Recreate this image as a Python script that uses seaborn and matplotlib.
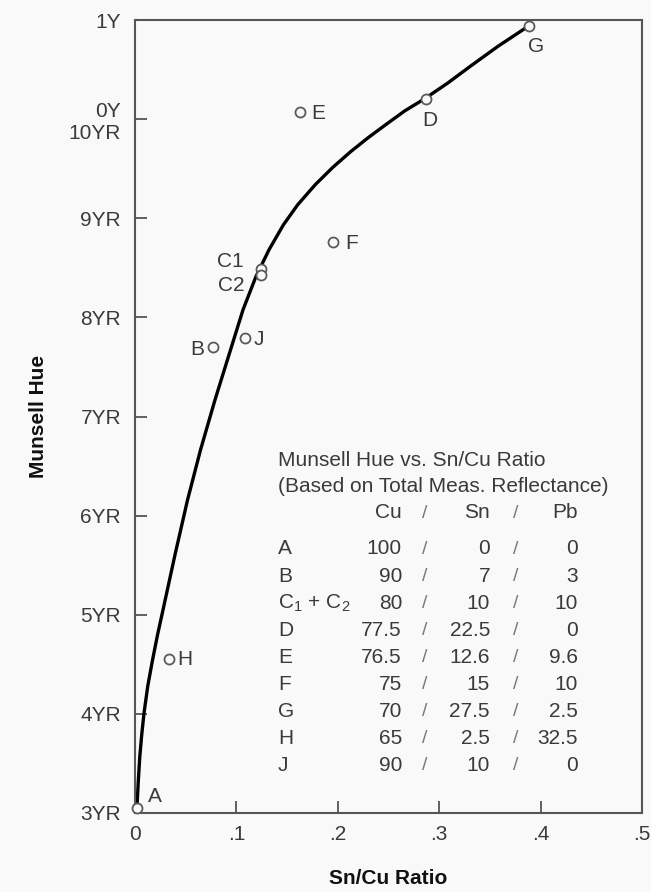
import matplotlib
matplotlib.use("Agg")
import matplotlib.pyplot as plt
import seaborn as sns
import pandas as pd

# ---------------- data ----------------
samples = ["A", "H", "B", "J", "C1", "C2", "E", "F", "D", "G"]
sn_cu_ratio = [0.002, 0.0337, 0.077, 0.108, 0.124, 0.124, 0.163, 0.195, 0.287, 0.389]
munsell_hue = [3.05, 4.55, 7.70, 7.79, 8.49, 8.43, 10.07, 8.76, 10.20, 10.94]

curve_x = [0.0020, 0.0032, 0.0047, 0.0066, 0.0089, 0.0126, 0.0173, 0.0222, 0.0276,
           0.0394, 0.0518, 0.0646, 0.0789, 0.0942, 0.1065, 0.1193, 0.1321, 0.1463,
           0.1605, 0.1778, 0.1948, 0.2127, 0.2301, 0.2474, 0.2660, 0.2860, 0.3087,
           0.3304, 0.3580, 0.3886]
curve_y = [3.071, 3.313, 3.565, 3.787, 4.009, 4.282, 4.544, 4.796, 5.048,
           5.603, 6.158, 6.663, 7.168, 7.672, 8.076, 8.412, 8.681, 8.933,
           9.137, 9.339, 9.511, 9.672, 9.814, 9.945, 10.083, 10.208, 10.366,
           10.531, 10.735, 10.942]

x_ticks = [0, 0.1, 0.2, 0.3, 0.4, 0.5]
x_ticklabels = ["0", ".1", ".2", ".3", ".4", ".5"]
y_ticks = [3, 4, 5, 6, 7, 8, 9, 10, 11]
y_ticklabels = ["3YR", "4YR", "5YR", "6YR", "7YR", "8YR", "9YR", "0Y\n10YR", "1Y"]

table_title = ["Munsell Hue vs. Sn/Cu Ratio", "(Based on Total Meas. Reflectance)"]
table_header = ["Cu", "Sn", "Pb"]
table_rows = ["A", "B", r"C$_\mathregular{1}$ + C$_\mathregular{2}$", "D", "E", "F", "G", "H", "J"]
table_cu = ["100", "90", "80", "77.5", "76.5", "75", "70", "65", "90"]
table_sn = ["0", "7", "10", "22.5", "12.6", "15", "27.5", "2.5", "10"]
table_pb = ["0", "3", "10", "0", "9.6", "10", "2.5", "32.5", "0"]

# ---------------- style ----------------
sns.set_theme(style="white")
plt.rcParams["font.family"] = ["Liberation Sans", "DejaVu Sans"]
plt.rcParams["mathtext.fontset"] = "custom"
plt.rcParams["mathtext.rm"] = "Liberation Sans"
plt.rcParams["mathtext.it"] = "Liberation Sans:italic"
plt.rcParams["mathtext.bf"] = "Liberation Sans:bold"

BG = "#f9f9f9"
TXT = "#3a3a3a"
AXC = "#555555"
W, H = 651, 892

fig = plt.figure(figsize=(W / 100, H / 100), dpi=100, facecolor=BG)
ax = fig.add_axes([135 / W, 1 - 813 / H, 507 / W, 793 / H])
ax.set_facecolor(BG)

curve_df = pd.DataFrame({"x": curve_x, "y": curve_y})
pts_df = pd.DataFrame({"sample": samples, "x": sn_cu_ratio, "y": munsell_hue})

sns.lineplot(data=curve_df, x="x", y="y", ax=ax, color="black", lw=2.4,
             sort=False, zorder=2)
sns.scatterplot(data=pts_df, x="x", y="y", ax=ax, s=52, color=BG,
                edgecolor="#5a5a5a", linewidth=1.3, zorder=3, clip_on=False)

ax.set_xlim(0, 0.5)
ax.set_ylim(3, 11)
ax.set_xticks(x_ticks)
ax.set_xticklabels(x_ticklabels)
ax.set_yticks(y_ticks)
ax.set_yticklabels(y_ticklabels, linespacing=1.2)

for s in ax.spines.values():
    s.set_visible(True)
    s.set_color(AXC)
    s.set_linewidth(1.5)

ax.tick_params(axis="both", which="major", direction="in", length=8.5, width=1.3,
               color=AXC, labelsize=15, labelcolor=TXT,
               left=True, bottom=True, right=False, top=False)
ax.tick_params(axis="y", pad=10)
ax.tick_params(axis="x", pad=9)

ax.set_xlabel("Sn/Cu Ratio", fontsize=15, fontweight="bold", color="#111111")
ax.set_ylabel("Munsell Hue", fontsize=15, fontweight="bold", color="#111111")
ax.xaxis.set_label_coords(0.5, (813 - 878) / 793)
ax.xaxis.label.set_va("center")
ax.yaxis.set_label_coords((38 - 135) / 507, 0.5)
ax.yaxis.label.set_va("center")

# point labels (offsets in points)
offsets = {
    "A": (8, 8, "left"), "H": (6, 0, "left"), "B": (-6.5, -2, "right"),
    "J": (6.5, -1, "left"), "C1": (-12, 5, "right"), "C2": (-12, -8, "right"),
    "E": (8, -1, "left"), "F": (9, -1, "left"), "D": (3, -15, "center"),
    "G": (5, -15, "center"),
}
for name, xv, yv in zip(samples, sn_cu_ratio, munsell_hue):
    dx, dy, ha = offsets[name]
    ax.annotate(name, (xv, yv), xytext=(dx, dy), textcoords="offset points",
                ha=ha, va="center", fontsize=15, color=TXT, zorder=4)

# ---------------- table ----------------
def fx(x):
    return x / W

def fy(y):
    return 1 - y / H

TFS = 15
fig.text(fx(278), fy(460), table_title[0], fontsize=TFS, color=TXT, va="center", ha="left")
fig.text(fx(278), fy(487), table_title[1], fontsize=TFS, color=TXT, va="center", ha="left")

SL = "#7a7a7a"
hy = 513
fig.text(fx(402), fy(hy), table_header[0], fontsize=TFS, color=TXT, va="center", ha="right")
fig.text(fx(425), fy(hy), "/", fontsize=TFS - 1, color=SL, va="center", ha="center")
fig.text(fx(490), fy(hy), table_header[1], fontsize=TFS, color=TXT, va="center", ha="right")
fig.text(fx(516), fy(hy), "/", fontsize=TFS - 1, color=SL, va="center", ha="center")
fig.text(fx(578), fy(hy), table_header[2], fontsize=TFS, color=TXT, va="center", ha="right")

row_y0, row_dy = 549, 27.1
for i, (lab, cu, sn, pb) in enumerate(zip(table_rows, table_cu, table_sn, table_pb)):
    y = row_y0 + i * row_dy
    fig.text(fx(278), fy(y), lab, fontsize=TFS, color=TXT, va="center", ha="left")
    fig.text(fx(402), fy(y), cu, fontsize=TFS, color=TXT, va="center", ha="right")
    fig.text(fx(425), fy(y), "/", fontsize=TFS - 1, color=SL, va="center", ha="center")
    fig.text(fx(490), fy(y), sn, fontsize=TFS, color=TXT, va="center", ha="right")
    fig.text(fx(516), fy(y), "/", fontsize=TFS - 1, color=SL, va="center", ha="center")
    fig.text(fx(578), fy(y), pb, fontsize=TFS, color=TXT, va="center", ha="right")

fig.savefig("out.png", dpi=100, facecolor=BG)
